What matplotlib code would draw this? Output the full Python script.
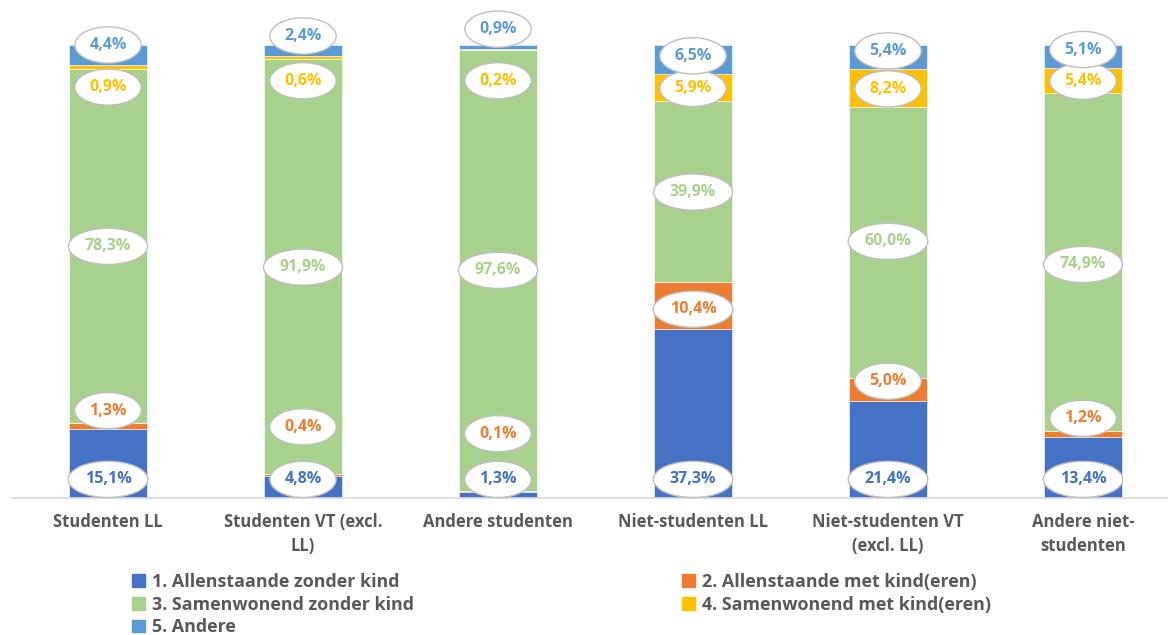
import numpy as np
import matplotlib.pyplot as plt
from matplotlib.patches import Patch

categories = ['Studenten LL', 'Studenten VT (excl.\nLL)', 'Andere studenten',
              'Niet-studenten LL', 'Niet-studenten VT\n(excl. LL)', 'Andere niet-\nstudenten']
series_names = ['1. Allenstaande zonder kind', '2. Allenstaande met kind(eren)',
                '3. Samenwonend zonder kind', '4. Samenwonend met kind(eren)', '5. Andere']
allein_zonder = [15.1, 4.8, 1.3, 37.3, 21.4, 13.4]
allein_met = [1.3, 0.4, 0.1, 10.4, 5.0, 1.2]
samen_zonder = [78.3, 91.9, 97.6, 39.9, 60.0, 74.9]
samen_met = [0.9, 0.6, 0.2, 5.9, 8.2, 5.4]
andere = [4.4, 2.4, 0.9, 6.5, 5.4, 5.1]

# where the (hand-placed) labels sit, in % of the bar
label_y = [
    [4.0, 4.0, 4.0, 4.0, 4.0, 4.0],
    [19.2, 15.6, 14.1, 41.6, 25.7, 17.5],
    [55.5, 50.9, 50.2, 67.5, 56.6, 51.5],
    [90.7, 92.1, 92.1, 90.4, 90.3, 92.0],
    [100.0, 102.0, 103.5, 97.6, 98.7, 99.0],
]

colors = ['#4472C4', '#ED7D31', '#A9D18E', '#FFC000', '#5B9BD5']
grey = '#595959'

plt.rcParams['font.family'] = ['Open Sans', 'DejaVu Sans']

W, H = 1168, 635
fig = plt.figure(figsize=(W / 100, H / 100), dpi=100)
base_px = 497.5
ax = fig.add_axes([10.5 / W, (H - base_px) / H, 1 - 10.5 / W, base_px / H])

data = np.array([allein_zonder, allein_met, samen_zonder, samen_met, andere])
data = data / data.sum(axis=0) * 100
x = np.arange(len(categories))
bottom = np.zeros(len(categories))
for i in range(len(data)):
    ax.bar(x, data[i], 0.4, bottom=bottom, color=colors[i], edgecolor='white', linewidth=0.4)
    bottom += data[i]

raw = [allein_zonder, allein_met, samen_zonder, samen_met, andere]
for i in range(len(raw)):
    for j in range(len(categories)):
        txt = f'{raw[i][j]:.1f}'.replace('.', ',') + '%'
        ax.text(x[j], label_y[i][j], txt, ha='center', va='center', fontsize=11.5,
                fontweight='bold', color=colors[i], clip_on=False,
                bbox=dict(boxstyle='ellipse,pad=0.3', fc='white', ec='#BFBFBF', lw=1))

ax.set_xlim(-0.5, (W - 108) / 195)
ax.set_ylim(0, 100 * base_px / 452.5)
for s in ['top', 'right', 'left']:
    ax.spines[s].set_visible(False)
ax.spines['bottom'].set_color('#D9D9D9')
ax.spines['bottom'].set_linewidth(1.2)
ax.set_yticks([])
ax.set_xticks(x)
ax.set_xticklabels(categories, fontsize=12, fontweight='bold', color=grey, linespacing=1.45)
ax.tick_params(axis='x', length=0, pad=11)

handles = [Patch(color=c) for c in colors]
leg_kw = dict(frameon=False, fontsize=12.9, handlelength=0.7, handleheight=0.7,
              handletextpad=0.4, labelspacing=0.26, borderaxespad=0, borderpad=0)
leg1 = fig.legend([handles[0], handles[2], handles[4]],
                  [series_names[0], series_names[2], series_names[4]],
                  loc='upper left', bbox_to_anchor=(132 / W, 1 - 573 / H), **leg_kw)
leg2 = fig.legend([handles[1], handles[3]], [series_names[1], series_names[3]],
                  loc='upper left', bbox_to_anchor=(682 / W, 1 - 573 / H), **leg_kw)
for leg in (leg1, leg2):
    for t in leg.get_texts():
        t.set_color(grey)
        t.set_fontweight('bold')

fig.savefig('out.png', dpi=100)
